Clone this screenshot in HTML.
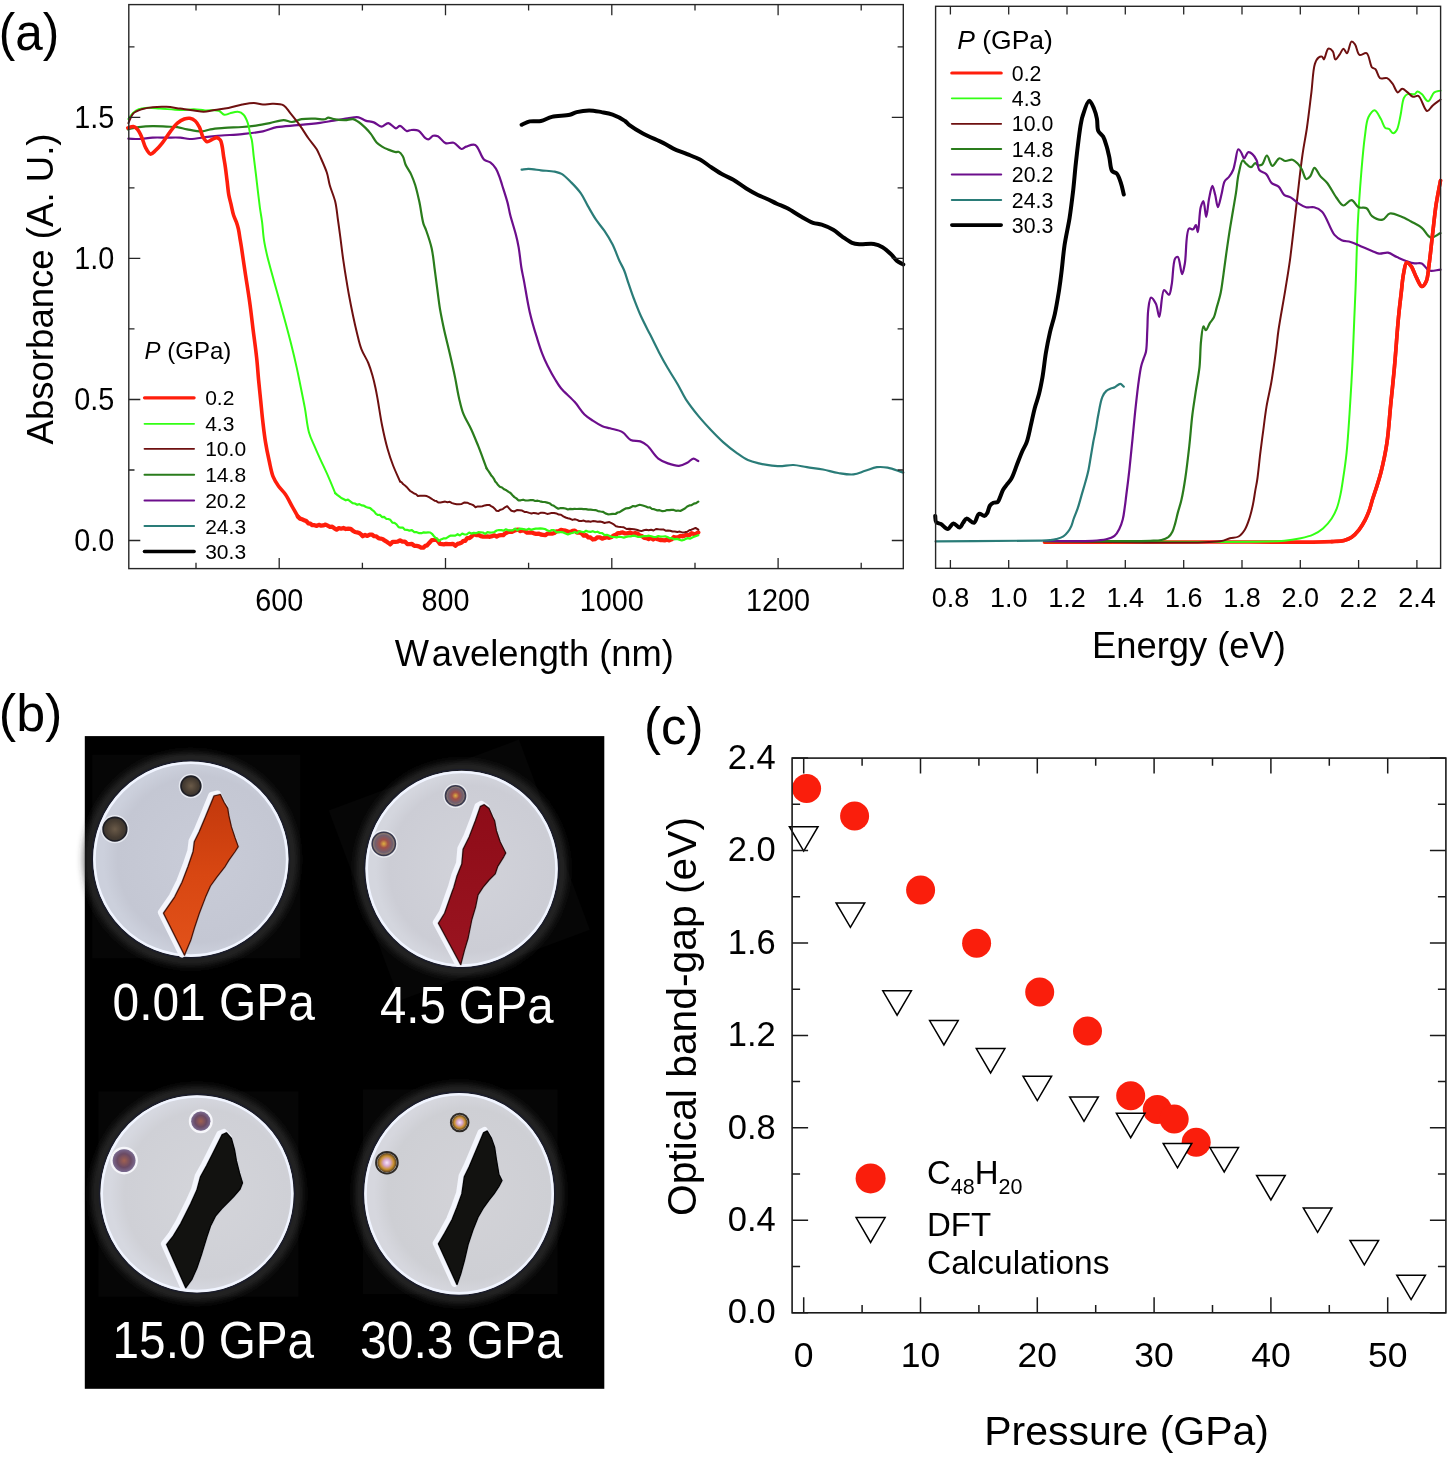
<!DOCTYPE html><html><head><meta charset="utf-8"><style>html,body{margin:0;padding:0;background:#fff;width:1450px;height:1460px;overflow:hidden}svg{display:block;filter:blur(0.35px)}text{font-family:"Liberation Sans",sans-serif}</style></head><body>
<svg width="1450" height="1460" viewBox="0 0 1450 1460">
<defs><filter id="bl1" x="-20%" y="-20%" width="140%" height="140%"><feGaussianBlur stdDeviation="1.2"/></filter><filter id="bl3" x="-30%" y="-30%" width="160%" height="160%"><feGaussianBlur stdDeviation="4"/></filter><filter id="bl05"><feGaussianBlur stdDeviation="0.6"/></filter><radialGradient id="disk0" cx="0.55" cy="0.5" r="0.5"><stop offset="0" stop-color="#c9ccd8"/><stop offset="0.85" stop-color="#c4c7d3"/><stop offset="1" stop-color="#ccd0dc"/></radialGradient><radialGradient id="disk1" cx="0.55" cy="0.5" r="0.5"><stop offset="0" stop-color="#d2d3da"/><stop offset="0.85" stop-color="#cccdd5"/><stop offset="1" stop-color="#d4d6de"/></radialGradient><radialGradient id="disk2" cx="0.55" cy="0.5" r="0.5"><stop offset="0" stop-color="#d4d5da"/><stop offset="0.85" stop-color="#cfd0d6"/><stop offset="1" stop-color="#d6d8e0"/></radialGradient><radialGradient id="disk3" cx="0.55" cy="0.5" r="0.5"><stop offset="0" stop-color="#d3d3d8"/><stop offset="0.85" stop-color="#cecfd4"/><stop offset="1" stop-color="#d6d7de"/></radialGradient><linearGradient id="cg1" x1="0" y1="0" x2="0" y2="1"><stop offset="0" stop-color="#c2380c"/><stop offset="0.5" stop-color="#d84712"/><stop offset="1" stop-color="#e2521a"/></linearGradient><linearGradient id="cg2" x1="0" y1="0" x2="0" y2="1"><stop offset="0" stop-color="#8e0c18"/><stop offset="1" stop-color="#9a1420"/></linearGradient><radialGradient id="gb1"><stop offset="0" stop-color="#6a5a48"/><stop offset="0.7" stop-color="#463c32"/><stop offset="1" stop-color="#3a342e"/></radialGradient><radialGradient id="gb2"><stop offset="0" stop-color="#e0b040"/><stop offset="0.35" stop-color="#a05048"/><stop offset="0.75" stop-color="#706070"/><stop offset="1" stop-color="#a08a70"/></radialGradient><radialGradient id="gb3"><stop offset="0" stop-color="#a06050"/><stop offset="0.6" stop-color="#6a4a64"/><stop offset="1" stop-color="#7a6a90"/></radialGradient><radialGradient id="gb4"><stop offset="0" stop-color="#f8e8f8"/><stop offset="0.35" stop-color="#d8a8d0"/><stop offset="0.7" stop-color="#c89030"/><stop offset="1" stop-color="#5a4020"/></radialGradient></defs>
<rect width="1450" height="1460" fill="#fff"/>
<path d="M128.4,138.6 C131.9,138.7 135.1,139.1 138.8,139 C143.1,138.9 148,137.8 152.6,137.6 C157.2,137.4 161.8,137.6 166.4,137.6 C171,137.6 176,137.3 180.2,137.6 C183.7,137.9 186.1,138.9 189.8,139 C194.9,139.1 202.2,137.5 207.8,136.9 C212.7,136.4 216.5,135.9 221.6,135.5 C227.8,135 235.3,134.8 242.2,134.1 C249.1,133.4 256.7,132.7 262.9,131.4 C268,130.3 271.6,128.2 276.7,127.2 C282.8,126 290.4,125.9 297.4,125.2 C304.8,124.5 313.4,123.7 320,122.8 C325.2,122.1 329.2,121.3 333.8,120.6 C338.4,119.8 343.3,118.9 347.6,118.3 C351.5,117.8 355.4,116.7 358.6,117.3 C361.2,117.8 363,119.8 365.5,120.6 C368.1,121.5 371.2,121.4 373.8,122.4 C376.5,123.4 378.9,126.6 381.4,126.6 C383.7,126.6 386,122.9 388.3,123.1 C390.8,123.3 393.7,128.2 395.9,128.3 C397.5,128.4 398.5,125.8 400,125.9 C402,126 404.8,130.7 406.9,131.1 C408.4,131.4 409.4,130.1 411,130 C413.1,129.8 416.4,129.6 418.6,130.7 C421,131.9 422.9,136.1 424.8,137.6 C426,138.6 427.1,139.5 428.3,139.4 C429.8,139.3 431.4,136.3 433.1,135.8 C434.6,135.4 436.2,135.5 437.9,136.2 C440.3,137.3 442.7,142.1 445.5,143.1 C448,144 451.2,141.9 453.8,142.8 C456.6,143.7 459.1,148.7 461.4,149 C463.1,149.2 464.3,147.2 466.2,146.6 C468.7,145.8 472.6,143.7 475.2,144.9 C478.8,146.5 480.9,156.9 484.1,159.7 C486.1,161.4 488.4,161 490.3,162.4 C492.4,163.9 494.3,166.2 495.9,168.6 C497.7,171.4 498.9,175.3 500,178.3 C500.9,180.7 501.2,182.2 502.1,185 C503.5,189.5 506.2,197.5 507.6,202.9 C508.8,207.4 509.1,210.7 510.3,215.3 C511.8,221.1 514.4,228.9 515.9,234.7 C517.1,239.3 517.8,242.4 518.6,247.1 C519.7,253.1 520.4,261.6 521.4,267.8 C522.2,272.9 523.1,276.1 524.1,281.6 C525.6,289.7 527.5,302.4 529.7,311.9 C531.7,320.6 534.3,329.3 536.6,336.7 C538.5,342.8 540.1,348.2 542.1,353.3 C543.8,357.8 545.5,361.5 547.6,365.7 C549.9,370.3 553,375.9 555.5,380 C557.4,383.2 558.6,385.3 561,388.3 C564.4,392.5 570.7,397.5 574.8,402.1 C578.5,406.2 581.2,411.2 584.5,414.5 C587.2,417.1 589.9,418.8 592.8,420.7 C595.8,422.7 599.3,424.9 602.4,426.2 C605,427.3 607.2,427.5 610,428.3 C613.6,429.4 618.9,430 622.4,432.1 C625.7,434 627.6,438.5 630.7,440 C633.6,441.4 637.5,440.4 640.3,441.4 C642.9,442.3 644.8,443.5 647.2,445.5 C650.7,448.5 654.4,455.5 658.3,458.6 C661.4,461 664.5,462.2 667.9,463.4 C671.4,464.6 675.6,466 679,465.8 C682,465.6 684.7,464.1 687.2,462.8 C689.5,461.6 691.4,458.7 693.4,458.6 C695.1,458.5 696.7,460.3 698.3,461.1" fill="none" stroke="#6c0e8c" stroke-width="2.2" stroke-linejoin="round" stroke-linecap="round"/>
<path d="M127.8,129.3 C131.5,128.6 134.9,127.7 138.8,127.2 C143.1,126.6 148,126.2 152.6,126.1 C157.2,126 162.1,126.4 166.4,126.6 C170.3,126.8 173.9,126.7 177.4,127.2 C180.8,127.7 183.5,128.7 187.1,129.3 C191.6,130.1 197.9,131.6 202.2,131.4 C205.4,131.2 207.4,129.9 210.5,129.3 C214.5,128.6 219.4,128.3 224.3,127.9 C229.9,127.5 236.6,127.4 242.2,127 C247.1,126.6 251.4,126.2 256,125.6 C260.6,124.9 265.2,124 269.8,123.1 C274.4,122.2 279.6,120.1 283.6,120.1 C286.7,120.1 289,122.1 291.9,122 C295,121.9 298.1,119.8 301.6,119.2 C305.7,118.5 311.1,118.7 315.3,118.7 C318.8,118.7 322.7,119.7 325,119.2 C326.4,118.9 327,117.7 328.3,117.6 C329.9,117.5 331.6,118.8 333.8,119.2 C336.8,119.8 341.4,120.1 344.8,120.1 C347.8,120.1 350.7,118.8 353.1,119.2 C355.2,119.6 356.7,120.8 358.6,122 C360.9,123.5 363.4,125.8 365.5,127.9 C367.5,129.9 369.2,131.8 371,134.1 C372.9,136.6 374.5,140.2 376.6,142.4 C378.3,144.2 380.2,145.4 382.1,146.6 C383.9,147.7 385.5,148.5 387.6,149.3 C390.1,150.3 393.9,151.9 395.9,152.1 C397,152.2 397.7,151.5 398.6,151.8 C400,152.3 401.7,154.3 402.8,156.2 C404.1,158.4 404.3,161.7 405.5,164.5 C406.9,167.7 409.4,170.7 411,174.1 C412.6,177.6 413.9,180.9 415.2,185 C416.7,189.9 418,195.7 419.3,201.6 C420.8,208.4 421.9,218.4 423.4,223.6 C424.3,226.6 425.2,227.6 426.2,230.5 C427.8,235 430.3,242.3 431.7,248.4 C433.1,254.7 433.6,261.2 434.5,267.8 C435.4,274.6 436.3,281.5 437.2,288.4 C438.1,295.3 438.9,302.2 440,309.1 C441.2,316 442.6,322.7 444.1,329.8 C445.8,337.4 447.9,345.4 449.7,353.3 C451.6,361.4 453.6,370.3 455.2,378.1 C456.6,385.1 457.6,391.8 459,397.9 C460.3,403.3 461.2,408 463.1,413.1 C465.2,418.6 468.8,424.1 471.4,429.7 C473.9,435.2 475.9,440.3 478.3,446.2 C481,453 483.8,460.9 486.6,468.3" fill="none" stroke="#2a7c1c" stroke-width="2.2" stroke-linejoin="round" stroke-linecap="round"/>
<path d="M486.6,468.3 L487.8,470.2 L489.0,471.8 L490.3,473.9 L491.5,475.8 L492.7,477.0 L493.9,478.8 L495.2,481.5 L496.4,482.7 L497.6,484.5 L499.8,486.7 L502.0,487.5 L504.2,489.3 L506.4,490.3 L508.6,491.9 L510.5,493.0 L512.5,495.2 L514.4,497.1 L516.4,498.4 L518.3,500.3 L520.7,500.3 L523.1,499.7 L525.5,500.5 L528.0,500.5 L530.4,500.2 L532.8,500.0 L535.2,501.0 L537.6,500.7 L540.0,501.3 L542.4,501.8 L544.8,502.0 L547.2,502.6 L549.4,503.2 L551.6,504.9 L553.9,505.8 L556.1,507.5 L558.3,508.7 L560.7,508.0 L563.1,508.2 L565.5,508.5 L567.9,509.5 L570.1,508.9 L572.4,509.1 L574.6,508.8 L576.9,509.0 L579.1,508.9 L581.4,508.8 L583.6,509.1 L585.9,509.1 L588.3,509.6 L590.7,509.6 L593.1,510.0 L595.5,510.1 L598.0,511.1 L600.5,511.5 L602.9,511.8 L605.4,513.4 L607.9,514.3 L610.4,514.2 L613.0,513.9 L615.5,514.0 L617.6,512.5 L619.6,512.1 L621.7,510.8 L623.8,509.5 L626.1,508.3 L628.4,508.2 L630.7,507.4 L633.0,506.0 L635.2,506.4 L637.5,505.5 L639.7,504.8 L642.8,505.5 L645.9,506.5 L648.0,507.5 L650.0,507.4 L652.0,509.0 L654.1,509.2 L656.9,510.3 L659.6,510.2 L662.4,511.2 L664.7,511.0 L667.0,510.1 L669.3,510.2 L671.5,509.8 L673.7,509.9 L675.9,510.8 L678.1,510.5 L680.3,511.0 L682.6,509.7 L684.9,508.5 L687.2,506.5 L689.4,505.4 L691.6,505.2 L693.9,503.6 L696.1,503.2 L698.3,501.7" fill="none" stroke="#2a7c1c" stroke-width="2.2" stroke-linejoin="round" stroke-linecap="round"/>
<path d="M521.6,169.7 C523.9,169.4 525.8,168.9 528.4,168.9 C531.9,168.9 536.6,169.8 540.9,170.3 C545.4,170.8 550.9,170.9 554.7,171.7 C557.4,172.3 559.3,172.6 561.6,173.9 C564.7,175.7 568.1,179.3 571.2,182.4 C574.5,185.7 578.1,189.5 580.9,193.4 C583.6,197.3 585.4,201.7 587.8,205.9 C590.4,210.4 593.1,215.4 596,219.7 C598.7,223.7 601.6,226.8 604.3,230.7 C607.2,235 610.1,239.6 612.6,244.5 C615.2,249.7 617.4,256.4 619.5,261 C621.1,264.5 622.6,266.6 624,270 C625.7,274 626.9,278.8 628.5,283.4 C630.2,288.3 631.8,293.3 633.8,298.5 C636,304.2 638.3,310.4 641,316.3 C643.7,322.3 646.9,328.2 649.9,334.1 C652.9,340 655.8,346.1 658.8,351.9 C661.7,357.4 664.6,362.7 667.7,368 C670.8,373.4 674.4,378.7 677.5,384 C680.5,389.1 682.6,394.2 685.9,399.3 C689.5,404.8 694.2,410.8 698.3,415.9 C702,420.4 705.4,424.1 709.3,428.3 C713.6,432.8 718.4,437.9 723.1,442.1 C727.6,446.1 732.5,450 736.9,453.1 C740.7,455.8 744.1,458.3 747.9,460 C751.5,461.6 755.4,462.5 759,463.4 C762.3,464.2 765.3,464.7 768.6,465.2 C772.2,465.7 775.8,466.2 779.7,466.2 C784,466.2 788.9,464.8 793.5,465 C798,465.2 802.2,466.5 806.9,467.2 C812,468 817.7,468.5 823,469.5 C828.2,470.5 833.2,472.2 838.3,473 C843.3,473.8 848.8,474.9 853.5,474.4 C857.7,474 861.3,472 865.2,470.8 C869.1,469.6 873,467.7 876.9,467.2 C880.5,466.7 883.7,467 887.6,467.7 C892.4,468.5 898.1,471 903.3,472.6" fill="none" stroke="#2a7c78" stroke-width="2.2" stroke-linejoin="round" stroke-linecap="round"/>
<path d="M127.8,127.9 C129.6,127.5 131.7,126.3 133.3,126.6 C134.8,126.9 136.2,128 137.4,129.3 C139,131.1 140.3,134.1 141.6,136.9 C143.1,140.2 144,144.9 145.7,147.9 C147.1,150.4 148.8,153.8 150.5,154.1 C152,154.3 153.6,152.2 155.3,150.7 C157.5,148.8 159.9,146 162.2,143.1 C164.9,139.7 167.8,134.9 170.5,131.4 C172.8,128.3 174.9,125.2 177.4,123.1 C179.6,121.3 182.1,119.8 184.3,119 C186.2,118.4 188,118 189.8,118.3 C191.7,118.6 193.7,119.6 195.3,121 C197,122.5 198.3,124.8 199.5,127.2 C200.9,130 201.4,134.3 202.9,136.9 C204.1,138.9 205.5,141.3 207.1,141.7 C208.5,142 210.3,140.4 211.9,139.7 C213.5,139 215.2,137.5 216.7,137.6 C218,137.7 219.4,138.8 220.3,140 C221.3,141.3 221.5,143.3 222,145.5 C222.7,148.6 223.1,153.4 223.7,157.1 C224.3,160.6 224.9,163.7 225.4,167.4 C226,171.6 226.5,176.5 227.1,181.1 C227.7,185.7 228,190.6 228.8,194.8 C229.5,198.5 230.4,201.7 231.2,205.1 C232,208.5 232.6,212.3 233.6,215.3 C234.4,217.9 235.6,219.9 236.4,222.2 C237.2,224.5 237.8,226.5 238.4,229 C239.1,232.1 239.6,236.1 240.1,239.3 C240.6,242.1 240.9,243.7 241.4,247.1 C242.4,253.5 244.1,265.5 245.5,274.7 C246.9,283.9 248.4,293 249.7,302.2 C251,311.4 252,320.6 253.1,329.8 C254.3,339 255.7,348.7 256.6,357.4 C257.5,365.3 257.9,372.6 258.6,380 C259.3,387.1 260,393.8 260.7,400.7 C261.4,407.6 262,414.5 262.8,421.4 C263.6,428.3 264.4,435.5 265.5,442.1 C266.5,448.3 267.7,454.2 269,460 C270.3,465.7 271.2,471.9 273.1,476.6 C274.6,480.4 276.5,483.2 278.6,486.2 C280.7,489.2 283.3,491.3 285.5,494.5 C288,498.1 290.2,503 292.4,506.9 C294.3,510.3 296.1,513.4 297.9,516.6" fill="none" stroke="#ff1e0c" stroke-width="3.6" stroke-linejoin="round" stroke-linecap="round"/>
<path d="M297.9,516.6 L300.0,518.6 L302.0,519.3 L304.1,520.2 L306.2,521.1 L308.3,523.3 L310.4,523.7 L312.4,525.2 L314.5,525.2 L316.7,525.9 L318.9,524.8 L321.1,525.7 L323.3,525.4 L325.5,524.6 L327.7,525.7 L329.9,526.8 L332.2,526.7 L334.4,528.3 L336.6,529.6 L338.9,528.1 L341.1,528.7 L343.4,528.0 L345.8,529.0 L348.2,528.6 L350.7,528.8 L353.1,530.9 L355.0,532.0 L357.0,532.4 L358.9,532.8 L360.9,534.2 L362.8,536.2 L365.1,535.0 L367.4,535.9 L369.7,534.7 L371.9,534.6 L374.1,536.2 L376.3,536.3 L378.5,538.1 L380.7,538.7 L382.6,539.0 L384.5,540.4 L386.5,541.6 L388.4,542.9 L390.3,544.4 L392.7,541.8 L395.1,541.8 L397.6,541.6 L400.0,540.3 L402.4,541.7 L404.9,541.6 L407.3,544.0 L409.7,544.2 L412.0,544.0 L414.3,545.8 L416.5,545.8 L418.8,546.3 L421.1,547.6 L423.4,547.6 L425.3,545.9 L427.1,545.4 L429.0,543.2 L431.8,540.1 L434.5,539.9 L436.3,539.6 L438.2,541.5 L440.0,543.9 L443.8,544.3 L446.1,543.8 L448.4,544.1 L450.7,544.2 L453.0,543.8 L455.3,545.7 L457.6,543.9 L459.5,543.4 L461.4,542.8 L463.4,540.9 L465.3,540.8 L467.2,538.1 L469.5,538.0 L471.8,536.2 L474.1,534.1 L476.3,535.1 L478.5,534.8 L480.8,536.1 L483.0,536.6 L485.2,536.6 L487.5,536.4 L489.8,536.8 L492.1,536.1 L494.4,535.3 L496.7,536.5 L499.0,535.4 L501.1,535.2 L503.3,535.1 L505.4,533.2 L507.6,532.2 L509.7,531.7 L511.9,531.9 L514.0,530.8 L516.2,529.9 L518.3,529.6 L520.5,531.1 L522.7,530.3 L524.9,531.1 L527.1,532.6 L529.3,532.6 L531.6,532.4 L533.9,533.3 L536.2,533.8 L538.5,533.6 L540.8,534.5 L543.1,534.8 L545.3,535.2 L547.6,533.6 L549.8,533.7 L552.0,533.7 L554.3,533.0 L556.5,531.3 L558.8,531.1 L561.0,529.9 L563.3,530.3 L565.6,530.7 L567.9,531.6 L570.2,532.1 L572.5,531.0 L574.8,530.7 L577.0,532.5 L579.3,532.5 L581.5,533.3 L583.8,535.7 L586.0,535.2 L588.3,537.3 L590.5,537.5 L592.8,539.5 L595.2,539.1 L597.5,537.3 L599.9,537.4 L602.2,538.7 L604.6,537.8 L606.9,537.2 L609.3,537.8 L611.5,537.0 L613.7,535.5 L615.9,534.7 L618.1,533.1 L620.3,532.8 L622.7,532.4 L625.1,533.4 L627.6,533.3 L630.0,532.4 L632.5,533.8 L635.1,533.2 L637.6,533.7 L639.8,535.6 L642.0,536.1 L644.2,537.8 L646.4,538.0 L648.6,539.0 L650.9,538.0 L653.2,539.5 L655.5,538.1 L657.8,539.3 L660.1,540.0 L662.4,540.1 L664.7,540.3 L667.0,539.7 L669.3,540.4 L671.6,539.4 L673.9,537.0 L676.2,537.5 L678.4,537.1 L680.6,535.9 L682.8,536.3 L685.0,535.4 L687.2,534.8 L689.4,535.1 L691.6,533.2 L693.9,534.1 L696.1,533.9 L698.3,532.4" fill="none" stroke="#ff1e0c" stroke-width="4.3" stroke-linejoin="round" stroke-linecap="round"/>
<path d="M128.4,119 C130,116.9 131.5,114.5 133.3,112.8 C135,111.3 136.8,110.1 138.8,109.3 C140.9,108.5 143,108.1 145.7,107.9 C149.6,107.6 154.8,108.2 160,108.5 C166.2,108.9 174.1,109.9 180.2,110 C185.2,110.1 189.7,109.2 194,109.3 C197.9,109.4 201.1,110.2 205,110.4 C209.3,110.7 215.4,109.5 218.8,110.7 C221.2,111.5 222.4,114.4 224.3,114.8 C226.1,115.1 227.8,113.9 229.8,113.4 C232.3,112.8 235.7,111.4 238.1,111.8 C240.2,112.1 242.1,113.2 243.6,114.8 C245.5,116.7 246.7,120 247.8,123.1 C249.1,126.7 249.7,132.4 250.5,135.5 C251,137.4 251.4,138 251.8,140 C252.6,143.8 253.1,151.4 253.8,157.1 C254.5,162.8 255.2,168.5 255.9,174.2 C256.6,179.9 257.2,185.7 257.9,191.4 C258.6,197.1 259.3,203.1 260,208.5 C260.7,213.3 261.5,217.3 262.1,222.2 C262.8,227.8 263.1,234.5 264,240.2 C264.8,245.4 265.9,250.3 267,255 C268,259.4 269,262.8 270.3,267.8 C272.2,274.7 274.9,284.3 277.2,292.6 C279.5,300.9 281.8,309 284.1,317.4 C286.4,326 288.9,335.1 291,343.6 C293,351.6 295.1,360.4 296.6,367.1 C297.7,372 298.3,374.9 299.3,380 C300.8,387.5 303.1,398.6 304.8,407.6 C306.4,416.1 307,425.4 309,432.4 C310.5,437.8 312.6,441.7 314.5,446.2 C316.3,450.5 318,454.1 320,458.6 C322.5,464.1 325.7,470.7 328.3,476.6 C330.8,482.2 332.9,487.6 335.2,493.1" fill="none" stroke="#33ff14" stroke-width="2.0" stroke-linejoin="round" stroke-linecap="round"/>
<path d="M335.2,493.1 L337.2,494.9 L339.3,496.4 L341.3,498.0 L343.4,499.0 L345.7,500.3 L348.0,499.6 L350.3,501.3 L352.6,503.1 L354.9,503.5 L357.2,504.8 L359.4,504.1 L361.6,505.4 L363.9,505.7 L366.1,507.0 L368.3,507.7 L370.2,508.1 L372.1,509.9 L374.1,511.3 L376.0,513.9 L377.9,515.0 L380.0,514.9 L382.0,517.1 L384.1,516.9 L386.2,518.8 L388.2,519.0 L390.3,519.8 L392.4,522.7 L394.5,522.9 L396.5,524.3 L398.6,527.1 L400.7,527.7 L402.8,527.6 L404.8,529.7 L406.9,529.8 L409.4,530.6 L411.9,530.2 L414.3,532.1 L416.8,532.2 L419.3,533.2 L421.5,533.2 L423.7,532.3 L425.9,532.6 L428.1,532.4 L430.3,532.5 L432.0,533.8 L433.6,535.8 L435.3,537.8 L436.9,538.3 L438.6,541.0 L441.0,539.4 L443.4,538.4 L445.9,538.4 L448.3,536.8 L450.7,535.6 L453.0,535.6 L455.3,535.6 L457.6,534.2 L459.9,535.5 L462.2,533.5 L464.5,534.5 L466.8,534.3 L469.1,532.5 L471.4,533.6 L473.7,532.9 L476.0,533.2 L478.3,532.2 L480.6,532.3 L482.9,532.5 L485.2,533.9 L487.5,532.1 L489.8,532.6 L492.1,532.5 L494.4,532.0 L496.7,530.5 L499.0,530.0 L501.3,530.2 L503.6,530.6 L505.9,529.3 L508.2,530.3 L510.5,530.3 L512.8,530.3 L515.1,528.7 L517.4,530.3 L519.7,528.6 L522.0,528.9 L524.3,529.3 L526.6,529.8 L528.9,528.7 L531.2,529.8 L533.5,529.1 L535.7,528.7 L538.0,528.7 L540.3,528.4 L542.6,528.6 L544.9,529.0 L547.2,530.3 L549.5,531.2 L551.8,530.1 L554.1,530.2 L556.4,532.3 L558.7,532.0 L561.0,532.2 L563.3,532.4 L565.6,533.5 L567.9,534.4 L570.2,533.4 L572.5,533.0 L574.8,532.0 L577.1,533.1 L579.4,531.2 L581.7,531.7 L583.9,532.2 L586.1,530.8 L588.4,531.7 L590.6,531.9 L592.8,531.2 L595.2,532.2 L597.5,531.7 L599.9,533.0 L602.2,533.2 L604.6,535.1 L606.9,534.8 L609.3,535.8 L611.7,537.0 L614.1,537.0 L616.5,537.4 L619.0,536.7 L621.4,537.0 L623.8,537.6 L626.1,536.9 L628.4,536.4 L630.7,536.4 L633.0,535.7 L635.3,535.9 L637.6,536.8 L639.9,536.8 L642.2,536.4 L644.5,536.2 L646.8,536.1 L649.1,535.7 L651.4,536.2 L653.7,537.0 L656.0,537.0 L658.3,536.0 L660.6,536.6 L662.9,536.5 L665.2,536.3 L667.5,537.1 L669.8,538.2 L672.1,538.4 L674.5,539.3 L676.9,538.9 L679.3,539.6 L681.7,540.5 L684.5,539.6 L687.2,538.2 L690.0,538.7 L692.8,537.3 L695.5,536.2 L698.3,535.2" fill="none" stroke="#33ff14" stroke-width="2.2" stroke-linejoin="round" stroke-linecap="round"/>
<path d="M128.4,123.1 C130,119.9 131,115.7 133.3,113.4 C135.5,111.3 138.6,110.3 141.6,109.3 C144.9,108.2 148.7,107.6 152.6,107.2 C156.9,106.7 161.8,106.6 166.4,106.8 C171,107 175.6,108 180.2,108.6 C184.8,109.2 189.8,109.8 194,110.4 C197.5,110.9 200.3,111.8 203.6,111.8 C207.2,111.8 210.8,110.6 214.7,110 C219,109.3 223.8,108.8 228.4,107.9 C233,107 237.8,105.3 242.2,104.5 C246.3,103.8 250.3,103 254,103.1 C257.2,103.2 259.9,104.4 262.9,104.5 C266.1,104.6 269.3,103.7 272.6,103.8 C276.2,103.9 280.6,103.8 283.6,105.4 C286.5,107 288,110.4 290.5,113.4 C293.5,117.1 297.2,121.7 300.2,125.9 C303.1,130 305.6,134.3 308.4,138.3 C311.1,142.1 314.7,146 316.7,149.3 C318.2,151.8 318.7,153.4 320,156.2 C321.9,160.5 325.2,167.6 326.9,172.8 C328.3,177.1 328.5,180.7 329.7,185 C331.1,190.1 333.8,195.9 335.2,201.6 C336.6,207.4 337,213.3 337.9,219.5 C338.9,226.1 339.8,233.3 340.7,240.2 C341.6,247.1 342.4,254.3 343.4,260.9 C344.3,267.1 345.2,273 346.2,278.8 C347.1,284.4 347.9,289.5 349,295.3 C350.2,301.8 351.7,309.4 353.1,316 C354.4,322.2 355.8,328.3 357.2,334 C358.5,339.3 359.5,344.3 361.4,349.1 C363.2,353.9 366.4,358.4 368.3,363 C370,367.2 371.2,371.1 372.4,375.3 C373.6,379.5 374.6,383.8 375.5,388 C376.4,392.2 377,395.8 377.9,400.7 C379.1,407.6 380.5,417.4 382.1,425.5 C383.7,433.5 385.6,441.9 387.6,449 C389.3,455 391,460.1 393.1,465.5 C395.2,470.9 397.7,476.1 400,481.4" fill="none" stroke="#6e1010" stroke-width="2.0" stroke-linejoin="round" stroke-linecap="round"/>
<path d="M400.0,481.4 L401.7,482.4 L403.3,484.3 L405.0,485.5 L406.6,486.9 L408.3,488.9 L410.2,491.0 L412.1,492.2 L414.1,493.5 L416.0,494.1 L417.9,496.0 L420.1,495.7 L422.3,495.7 L424.6,495.8 L426.8,496.1 L429.0,497.2 L430.9,498.3 L432.7,499.5 L434.6,500.7 L436.4,501.1 L438.3,502.5 L440.6,502.4 L442.9,502.0 L445.2,501.6 L447.5,502.2 L449.8,501.8 L452.1,503.1 L454.4,503.8 L456.7,504.2 L459.0,504.3 L461.7,503.9 L464.5,502.4 L467.2,502.7 L469.3,503.7 L471.4,504.4 L473.4,505.2 L475.5,507.2 L477.8,506.4 L480.1,506.5 L482.4,506.2 L484.7,505.4 L487.0,505.0 L489.3,504.9 L491.1,506.1 L492.9,507.1 L494.7,508.7 L496.5,510.8 L498.3,511.1 L500.5,509.7 L502.8,509.1 L505.0,507.3 L507.2,506.2 L509.3,508.6 L511.4,510.8 L514.2,511.5 L516.9,510.1 L519.7,510.2 L522.1,510.6 L524.5,511.9 L526.9,512.1 L529.3,512.9 L531.5,513.5 L533.8,512.9 L536.0,513.3 L538.2,513.9 L540.5,512.8 L542.7,512.8 L545.0,513.1 L547.2,513.9 L549.5,513.5 L551.8,512.9 L554.1,512.9 L556.4,513.4 L558.7,514.6 L561.0,514.8 L563.3,516.4 L565.6,517.5 L567.9,518.3 L570.2,518.8 L572.5,519.9 L574.8,519.3 L577.0,519.9 L579.3,521.0 L581.5,520.9 L583.8,520.6 L586.0,521.5 L588.3,521.2 L590.5,521.7 L592.8,521.1 L595.2,521.2 L597.5,521.7 L599.9,521.5 L602.2,522.0 L604.6,523.0 L606.9,522.4 L609.3,522.1 L611.5,523.2 L613.8,524.4 L616.0,526.3 L618.3,526.7 L621.1,527.1 L623.8,527.3 L626.6,529.0 L629.1,528.7 L631.6,529.0 L634.0,529.3 L636.5,529.8 L639.0,530.5 L641.4,531.1 L643.8,530.2 L646.2,529.8 L648.6,530.3 L651.1,529.7 L653.6,530.5 L656.0,529.0 L658.5,529.3 L661.0,529.4 L663.3,529.4 L665.6,530.7 L667.9,530.5 L670.2,530.7 L672.5,531.5 L674.8,531.5 L677.3,531.9 L679.8,531.6 L682.2,532.4 L684.7,532.2 L687.2,531.7 L689.3,530.2 L691.4,529.7 L693.4,528.8 L695.5,527.9 L698.3,529.7" fill="none" stroke="#6e1010" stroke-width="2.0" stroke-linejoin="round" stroke-linecap="round"/>
<path d="M521.6,124.8 C524.3,123.7 526.8,122.1 529.8,121.4 C533.2,120.7 537.3,121.7 540.9,121 C544.6,120.3 547.7,117.9 551.9,116.9 C557.1,115.7 565.3,115.9 569.8,114.8 C572.7,114.1 574,112.8 576.7,112.1 C580.2,111.2 585,110.4 589.1,110.4 C593.3,110.4 597.6,111.4 601.6,112.1 C605.4,112.8 608.9,113.3 612.6,114.6 C616.7,116.1 622.1,118.9 625,121 C626.9,122.3 627.2,123.4 629.1,124.8 C632.3,127.2 637.7,130.6 642.9,133.4 C649,136.7 658,140.2 663.6,143.1 C667.5,145.1 669.7,146.9 673.3,148.6 C677.4,150.6 682.6,152.2 687.1,154.1 C691.5,155.9 695.9,157.4 700,159.6 C704.1,161.8 707.7,165 711.6,167.5 C715.4,170 719.4,172.7 723.2,174.8 C726.6,176.7 729.8,177.8 733.3,179.8 C737.4,182.2 742,185.9 746.3,188.5 C750.2,190.9 754.3,193.2 757.9,195 C761,196.5 763.6,197.3 766.6,198.7 C769.9,200.2 773.4,202.1 776.8,203.7 C780.2,205.3 783.3,206.2 786.9,208.1 C791.4,210.4 796.8,214.2 801.4,216.8 C805.4,219.1 809.3,221.5 813,222.8 C816,223.9 818.7,223.7 821.7,224.7 C825.3,225.9 829.7,227.8 833.2,229.8 C836.4,231.7 838.8,234.2 841.9,236.3 C845.1,238.5 848.9,241.5 852.1,242.8 C854.6,243.8 856.5,244 859.3,244.3 C863.3,244.7 869.6,243.3 873.8,244 C877.1,244.6 879.7,245.6 882.5,247.2 C885.6,249 888.7,252 891.2,254.4 C893.4,256.5 894.9,259.2 897,260.9 C898.9,262.5 901.2,263.3 903.3,264.5" fill="none" stroke="#000" stroke-width="4.0" stroke-linejoin="round" stroke-linecap="round"/>
<rect x="128.8" y="4.6" width="774.5" height="564.0" fill="none" stroke="#262626" stroke-width="1.4"/>
<path d="M128.8,540.5L140.3,540.5 M891.8,540.5L903.3,540.5 M128.8,399.5L140.3,399.5 M891.8,399.5L903.3,399.5 M128.8,258.4L140.3,258.4 M891.8,258.4L903.3,258.4 M128.8,117.4L140.3,117.4 M891.8,117.4L903.3,117.4 M128.8,470L134.5,470 M897.6,470L903.3,470 M128.8,328.9L134.5,328.9 M897.6,328.9L903.3,328.9 M128.8,187.9L134.5,187.9 M897.6,187.9L903.3,187.9 M128.8,46.9L134.5,46.9 M897.6,46.9L903.3,46.9 M279.2,568.6L279.2,558 M279.2,4.6L279.2,15.2 M445.5,568.6L445.5,558 M445.5,4.6L445.5,15.2 M611.8,568.6L611.8,558 M611.8,4.6L611.8,15.2 M778.1,568.6L778.1,558 M778.1,4.6L778.1,15.2 M196,568.6L196,562.8 M196,4.6L196,10.4 M362.4,568.6L362.4,562.8 M362.4,4.6L362.4,10.4 M528.6,568.6L528.6,562.8 M528.6,4.6L528.6,10.4 M695,568.6L695,562.8 M695,4.6L695,10.4 M861.2,568.6L861.2,562.8 M861.2,4.6L861.2,10.4" stroke="#262626" stroke-width="1.3" fill="none"/>
<text transform="translate(114.3,551.4) scale(0.9,1)" font-size="32" text-anchor="end" fill="#000" >0.0</text>
<text transform="translate(114.3,410.4) scale(0.9,1)" font-size="32" text-anchor="end" fill="#000" >0.5</text>
<text transform="translate(114.3,269.3) scale(0.9,1)" font-size="32" text-anchor="end" fill="#000" >1.0</text>
<text transform="translate(114.3,128.3) scale(0.9,1)" font-size="32" text-anchor="end" fill="#000" >1.5</text>
<text transform="translate(279.2,610.9) scale(0.9,1)" font-size="32" text-anchor="middle" fill="#000" >600</text>
<text transform="translate(445.5,610.9) scale(0.9,1)" font-size="32" text-anchor="middle" fill="#000" >800</text>
<text transform="translate(611.8,610.9) scale(0.9,1)" font-size="32" text-anchor="middle" fill="#000" >1000</text>
<text transform="translate(778.1,610.9) scale(0.9,1)" font-size="32" text-anchor="middle" fill="#000" >1200</text>
<text x="534.3" y="666.4" font-size="36.3" text-anchor="middle" fill="#000" >W<tspan dx="4">avelength (nm)</tspan></text>
<text transform="translate(53,289) rotate(-90)" font-size="36.6" text-anchor="middle">Absorbance (A. U.)</text>
<text x="144.6" y="359.2" font-size="24" text-anchor="start" fill="#000" ><tspan font-style="italic">P</tspan> (GPa)</text>
<line x1="144.5" y1="397.8" x2="194.1" y2="397.8" stroke="#ff1e0c" stroke-width="3.2" stroke-linecap="round"/>
<text x="205.2" y="405.4" font-size="21" text-anchor="start" fill="#000" >0.2</text>
<line x1="144.5" y1="423.8" x2="194.1" y2="423.8" stroke="#33ff14" stroke-width="1.8" stroke-linecap="round"/>
<text x="205.2" y="431.4" font-size="21" text-anchor="start" fill="#000" >4.3</text>
<line x1="144.5" y1="448.8" x2="194.1" y2="448.8" stroke="#6e1010" stroke-width="1.8" stroke-linecap="round"/>
<text x="205.2" y="456.4" font-size="21" text-anchor="start" fill="#000" >10.0</text>
<line x1="144.5" y1="474.7" x2="194.1" y2="474.7" stroke="#2a7c1c" stroke-width="2.0" stroke-linecap="round"/>
<text x="205.2" y="482.3" font-size="21" text-anchor="start" fill="#000" >14.8</text>
<line x1="144.5" y1="500.4" x2="194.1" y2="500.4" stroke="#6c0e8c" stroke-width="2.0" stroke-linecap="round"/>
<text x="205.2" y="508" font-size="21" text-anchor="start" fill="#000" >20.2</text>
<line x1="144.5" y1="526.1" x2="194.1" y2="526.1" stroke="#2a7c78" stroke-width="2.0" stroke-linecap="round"/>
<text x="205.2" y="533.7" font-size="21" text-anchor="start" fill="#000" >24.3</text>
<line x1="144.5" y1="551.5" x2="194.1" y2="551.5" stroke="#000" stroke-width="3.6" stroke-linecap="round"/>
<text x="205.2" y="559.1" font-size="21" text-anchor="start" fill="#000" >30.3</text>
<path d="M1044.5,542.2 C1096.3,542.1 1150.3,542.1 1200,542 C1245.7,541.9 1311.1,542.6 1331.7,541.6 C1338,541.3 1340.5,541.3 1344.1,540.4 C1347,539.7 1349.3,538.9 1351.6,537.3 C1354.3,535.5 1356.8,532.7 1359,529.9 C1361.3,526.9 1363.5,523.2 1365.2,519.9 C1366.7,517 1367.8,514.4 1369,511.2 C1370.4,507.5 1371.4,502.8 1372.7,498.8 C1373.9,495 1375.1,491.7 1376.4,487.6 C1377.9,482.8 1379.6,477.9 1381.1,471.8 C1383.1,463.7 1385.4,453.4 1386.9,443.1 C1388.7,431.3 1389.4,417.5 1390.7,404.7 C1392,391.9 1393.3,379.8 1394.5,366.3 C1395.9,351.2 1397.1,331.8 1398.4,318.4 C1399.3,308.6 1400.3,300.9 1401.2,293 C1402,286.2 1402.4,279.5 1403.5,274 C1404.4,269.7 1405,263 1406.7,262.5 C1407.9,262.1 1409.7,264.4 1411.1,266.1 C1413.1,268.7 1414.6,274.1 1416.5,277.6 C1418.2,280.8 1420,286.3 1421.8,286.5 C1423.3,286.6 1425.2,283.6 1426.3,281.2 C1428,277.5 1428.1,271.4 1429,265.2 C1430.2,256.7 1431.3,245 1432.5,234.9 C1433.7,224.8 1434.7,214.1 1436.1,204.6 C1437.4,196.1 1439,188.5 1440.5,180.5" fill="none" stroke="#ff1e0c" stroke-width="3.6" stroke-linejoin="round" stroke-linecap="round"/>
<path d="M1044.5,541.2 C1124.5,541.1 1251.5,543.4 1284.5,540.8 C1293.1,540.1 1295.7,539.4 1300.7,538.3 C1305.1,537.3 1309.3,536.3 1313.1,534.6 C1316.7,533 1320,531 1323,528.4 C1326.2,525.7 1329.4,522 1331.7,518.5 C1333.8,515.3 1335.3,512.2 1336.7,508.6 C1338.3,504.5 1339.4,499.6 1340.4,494.9 C1341.5,490.1 1342,485.7 1342.9,480 C1344.1,472.3 1345.6,462.5 1346.6,452.6 C1347.8,440.9 1348.6,427.8 1349.5,414.3 C1350.5,399.2 1351.5,382.3 1352.3,366.3 C1353.1,350.3 1353.7,332.3 1354.3,318.4 C1354.7,307.7 1355.1,301.4 1355.5,290 C1356.2,272.9 1356.7,246.4 1357.7,226 C1358.6,207.4 1360,188.5 1361.3,172.5 C1362.4,159.4 1363.4,147 1364.8,136.9 C1365.9,129.4 1366.1,122 1368.4,117.3 C1370,114.1 1372.6,110.1 1374.6,110.2 C1376.8,110.3 1379.1,116.1 1380.9,119.1 C1382.6,122 1383.5,126.6 1385.3,128 C1386.4,128.9 1387.7,128.2 1388.9,128.9 C1390.4,129.8 1391.9,133.3 1393.3,133.3 C1394.6,133.3 1395.9,131.6 1396.9,129.8 C1398.6,126.8 1399.4,120.5 1400.5,115.5 C1401.8,109.9 1402.1,101.2 1404,97.7 C1405,95.8 1406,94.7 1407.6,94.1 C1409.5,93.3 1413,94.8 1414.7,94.1 C1415.9,93.6 1416.3,91.6 1417.4,91.5 C1418.6,91.4 1420.3,92.9 1421.8,94.1 C1423.8,95.8 1426.1,101.4 1428.1,101.3 C1430.3,101.2 1431.9,94.1 1434.3,92.4 C1436.2,91.1 1438.4,91.2 1440.5,90.6" fill="none" stroke="#33ff14" stroke-width="2.0" stroke-linejoin="round" stroke-linecap="round"/>
<path d="M1044.5,541.3 C1103,541.3 1197.6,544.6 1220,541.3 C1225.4,540.5 1226.7,539.1 1229.9,538.3 C1232.9,537.5 1236.1,537.9 1238.6,536.5 C1241.1,535.1 1243,532.5 1244.8,529.7 C1246.9,526.3 1248.4,521.4 1249.8,517.2 C1251.1,513.1 1252,509.1 1252.9,504.8 C1253.9,500.1 1254.6,494.4 1255.4,489.9 C1256,486.3 1256.6,484.1 1257.2,480 C1258.2,473.4 1259.2,462.4 1260.2,453.9 C1261.2,445.8 1262.2,438.1 1263.3,430.2 C1264.3,422.3 1265.2,414.4 1266.5,406.6 C1267.8,398.7 1269.7,391.5 1271.2,383 C1272.9,373.3 1274.6,361 1275.9,351.5 C1277,343.7 1277.3,338.3 1278.5,330 C1280.2,318.4 1283.5,301.2 1285.5,288.6 C1287.2,278.1 1288.4,271.2 1290,259.8 C1292.2,243.4 1294.9,217.9 1297.1,199.3 C1299,183.3 1300.6,167.7 1302.5,154.7 C1303.9,144.6 1305.5,137.6 1306.9,128 C1308.5,117 1310,103.6 1311.4,92.4 C1312.6,82.4 1312.9,69.9 1314.9,63.9 C1315.9,60.9 1317,58.7 1318.5,57.6 C1319.6,56.8 1321.2,56.3 1322.1,56.7 C1323,57 1323.2,59.5 1323.9,59.4 C1325.1,59.3 1326.4,49.3 1328.3,48.7 C1329.6,48.3 1331.7,50 1332.8,51.4 C1334.2,53.2 1334.1,59.1 1335.4,59.4 C1336.6,59.6 1338.5,55.9 1339.9,54.1 C1341.2,52.3 1342.2,48.8 1343.4,48.7 C1344.6,48.6 1345.9,53.4 1347,53.2 C1348.7,52.9 1349.7,42.1 1351.5,41.6 C1352.6,41.3 1353.9,42.9 1355,44.3 C1356.7,46.5 1357.2,53.7 1359.5,54.9 C1361.3,55.8 1364.7,52.2 1366.6,53.2 C1369.4,54.7 1369.9,65 1372,67.4 C1373.1,68.6 1374.4,68.1 1375.5,69.2 C1377.2,70.9 1377.8,76.7 1380,78.1 C1381.9,79.2 1385.1,77.3 1387.1,78.1 C1389.2,79 1390.7,81.3 1392.4,83.4 C1394.4,85.9 1395.9,92.1 1397.8,92.4 C1399.2,92.6 1400.6,88.9 1402.2,88.8 C1403.9,88.7 1405.8,91.1 1407.6,92.4 C1409.4,93.7 1411,96.3 1412.9,96.8 C1414.6,97.3 1416.6,95.1 1418.3,95.9 C1421.4,97.4 1424.4,110.8 1427.2,111.1 C1429,111.3 1430.5,107.5 1432.5,105.7 C1434.8,103.6 1437.8,101.6 1440.5,99.5" fill="none" stroke="#6e1010" stroke-width="2.0" stroke-linejoin="round" stroke-linecap="round"/>
<path d="M1044.5,541 C1079.8,540.9 1133,541.4 1150.3,540.8 C1155.9,540.6 1158.2,540.7 1161.4,540 C1164,539.4 1166.4,538.6 1168.3,537.2 C1170.1,535.8 1171.3,533.8 1172.4,531.7 C1173.7,529.3 1174.3,526.4 1175.2,523.4 C1176.2,520 1176.9,516.2 1177.9,512.4 C1179,508.4 1180.3,504.8 1181.4,500 C1182.9,493.6 1184.2,485.6 1185.4,477.5 C1186.8,467.9 1188.1,456.5 1189.3,446 C1190.5,435.5 1191.2,424.1 1192.4,414.5 C1193.4,406.5 1194.5,400 1195.6,392.4 C1196.8,384.3 1198.6,375.7 1199.5,367.2 C1200.4,358.5 1200.2,348 1201.1,340.5 C1201.7,335 1202.3,326.5 1203.5,326.3 C1204.2,326.2 1204.9,330.2 1205.8,330.2 C1207,330.2 1208.4,325.3 1209.8,323.1 C1211.1,321.1 1212.7,319.8 1213.8,317.6 C1215.1,314.9 1215.6,311.5 1216.6,307.9 C1217.9,303.4 1219.6,298.1 1220.7,292.8 C1221.9,287.1 1222.5,281 1223.4,274.8 C1224.3,268.1 1225.2,261.5 1226.2,254.1 C1227.4,245.6 1229,234.6 1230.3,226.6 C1231.3,220.4 1232.2,215.5 1233.1,210 C1234,204.5 1235,199.1 1235.9,193.4 C1236.9,187.2 1237.3,179.9 1238.6,174.1 C1239.7,169.1 1241.2,160.7 1242.8,160.3 C1243.6,160.1 1244.4,162.1 1245.5,163.1 C1247,164.4 1249.3,167.3 1251,167.2 C1252.5,167.1 1253.9,163.2 1255.2,163.1 C1256.2,163 1256.8,164.9 1257.9,165.2 C1259.1,165.5 1260.8,165.4 1262.1,164.5 C1264,163.1 1265.2,155.5 1266.9,155.5 C1268.7,155.5 1270.2,165.6 1272.4,165.9 C1274.4,166.2 1276.9,158.8 1279.3,158.3 C1281.3,157.9 1283.3,160.8 1285.5,161 C1287.7,161.2 1290.3,159.2 1292.4,159.7 C1294.5,160.2 1296.3,162.1 1297.9,163.8 C1299.6,165.5 1300.8,167.7 1302.1,170 C1303.6,172.7 1304.5,178.5 1306.2,179 C1307.4,179.3 1309.1,177.6 1310.3,176.2 C1312,174.3 1312.9,168 1314.5,167.9 C1316.2,167.8 1318.1,173.5 1320.3,176.1 C1322.4,178.6 1325.1,180.3 1327.4,183.2 C1330.4,187 1333.3,193.5 1336.3,197.5 C1338.7,200.7 1340.8,205.2 1343.4,205.5 C1345.9,205.8 1349,199.8 1351.5,200.1 C1354.1,200.4 1355.9,206 1358.6,207.3 C1361,208.5 1364.4,206.9 1366.6,208.2 C1369,209.6 1369.5,214.3 1372,216.2 C1374.7,218.2 1379.6,220.3 1382.6,219.7 C1385.4,219.1 1387,214.2 1389.8,213.5 C1392.9,212.8 1397,214.9 1400.5,216.2 C1404.1,217.5 1407.6,219.6 1411.1,221.5 C1414.7,223.5 1418.6,225.2 1421.8,227.8 C1425.1,230.5 1427.4,236.9 1430.7,237.6 C1433.7,238.2 1437.2,234.6 1440.5,233.1" fill="none" stroke="#2a7c1c" stroke-width="2.2" stroke-linejoin="round" stroke-linecap="round"/>
<path d="M1044.5,541 C1060.5,540.9 1081.3,541.4 1092.4,540.8 C1098.4,540.5 1102.2,540.3 1106.2,539.3 C1109.4,538.5 1112.3,537.7 1114.5,535.9 C1116.6,534.2 1118,531.6 1119.3,529 C1120.8,526.1 1121.9,522.8 1122.8,519.3 C1123.8,515.5 1124.2,511 1124.8,506.9 C1125.4,502.9 1125.7,499.7 1126.3,495 C1127.2,488.1 1128.4,478.5 1129.4,469.6 C1130.5,459.7 1131.5,448.6 1132.6,438.1 C1133.6,427.6 1134.6,416.7 1135.7,406.6 C1136.7,397.3 1137.8,387.3 1138.9,379.8 C1139.7,374.3 1140.3,369.6 1141.3,365.7 C1142,362.9 1142.8,361 1143.6,358.6 C1144.4,356.2 1145.4,354.6 1146,351.5 C1147,346.3 1146.9,337.1 1147.3,330 C1147.7,323 1147.5,315.2 1148.3,309.3 C1148.9,304.8 1149.5,297.9 1151,297.6 C1152.2,297.3 1154.6,301.2 1155.9,303.8 C1157.6,307.2 1158.2,316.9 1159.3,316.9 C1160.9,316.8 1161.4,290.9 1164.1,290 C1165.5,289.6 1167.8,295.1 1169,294.8 C1170.5,294.4 1170.9,288.8 1171.7,284.5 C1173,277.8 1172.9,261.5 1175.2,258.3 C1176,257.2 1177.1,256.5 1177.9,256.9 C1179.8,257.8 1180.8,274.1 1182.1,274.1 C1183.1,274.1 1183.9,268.3 1184.8,263.8 C1186.4,255.6 1185.7,231.1 1189,228.6 C1190.1,227.7 1192,229.8 1193.1,229.3 C1194.3,228.8 1195.1,225.1 1195.9,225.2 C1196.8,225.3 1197.3,232.2 1197.9,232.1 C1199,232 1199.2,212.7 1200.7,207.2 C1201.5,204.4 1202.6,200.9 1203.4,201 C1204.6,201.1 1205.3,216.9 1206.2,216.9 C1207.2,216.9 1207.9,204.5 1209,199 C1210,194.3 1211.3,185.9 1212.4,185.9 C1213.3,185.9 1214.3,191.6 1215.2,194.8 C1216.2,198.6 1216.9,207.2 1217.9,207.2 C1218.9,207.2 1220.3,199.1 1221.4,194.8 C1222.6,190.3 1223,184.1 1224.8,181 C1225.9,179 1227.7,178.5 1229,176.9 C1230.5,175 1232.1,172.5 1233.1,170 C1234.2,167.4 1234.4,164.7 1235.2,161.7 C1236.1,158 1236.8,149.7 1238.3,149.3 C1239.2,149.1 1240.5,151.4 1241.4,152.8 C1242.5,154.4 1243,158.2 1244.1,158.3 C1245.3,158.4 1246.7,152.5 1248.3,152.1 C1249.5,151.8 1251.2,153 1252.4,154.1 C1254,155.5 1255.5,157.9 1256.6,160.3 C1257.9,163.1 1257.5,167.7 1259.3,170 C1260.9,172.1 1264.2,172.2 1266.2,174.1 C1268.5,176.3 1269.4,181 1271.7,183.1 C1273.7,184.9 1276.6,184.8 1278.6,186.6 C1280.8,188.6 1281.8,193 1284.1,194.8 C1286.1,196.4 1288.7,196.3 1291,197.6 C1293.6,199.1 1296.3,202 1298.9,203.7 C1301.3,205.2 1303.5,206.7 1306,207.3 C1308.5,207.9 1311.5,206.6 1314.1,207.3 C1316.9,208 1319.5,209.1 1322.1,211.7 C1326.5,216.1 1330.4,230.1 1334.5,234.9 C1336.9,237.7 1339,239 1341.7,240.2 C1344.4,241.4 1347.5,241.1 1350.6,242 C1354.1,243.1 1357.7,245 1361.3,246.5 C1364.9,248 1368.8,249.6 1372,250.9 C1374.6,251.9 1376.6,253.3 1379.1,253.6 C1381.9,254 1385.1,252.2 1388,252.7 C1391,253.3 1393.8,255.7 1396.9,257.1 C1400.3,258.6 1404.4,260.5 1407.6,261.6 C1410.2,262.5 1412.3,263.1 1414.7,263.4 C1417,263.7 1419.6,262.5 1421.8,263.4 C1424.4,264.5 1426,269.4 1429,270.5 C1432.2,271.7 1436.7,269.9 1440.5,269.6" fill="none" stroke="#6c0e8c" stroke-width="2.2" stroke-linejoin="round" stroke-linecap="round"/>
<path d="M935.6,541.4 C970.4,541.1 1023.6,541 1040,540.6 C1045.1,540.5 1047.1,540.5 1050,540.2 C1052.4,539.9 1054.2,539.7 1056.3,539.1 C1058.6,538.4 1061.4,537.6 1063.4,536.3 C1065.3,535.1 1066.8,533.3 1068.1,531.6 C1069.4,529.9 1070.4,528.1 1071.3,526.1 C1072.3,523.9 1072.7,521.6 1073.6,519 C1074.7,515.9 1076.3,512.4 1077.6,508.7 C1079,504.6 1080.2,499.8 1081.5,495.4 C1082.8,490.9 1084.2,486.4 1085.4,482 C1086.6,477.7 1087.7,473.7 1088.6,469.4 C1089.5,465 1090.1,460.5 1090.9,456 C1091.7,451.3 1092.5,446.3 1093.3,441.8 C1094.1,437.7 1094.9,434.2 1095.7,430 C1096.6,425.3 1097.2,420.1 1098.3,414.8 C1099.4,409.1 1100.5,401.2 1102.4,396.9 C1103.6,394.2 1105,392.1 1106.6,390.7 C1107.8,389.6 1109.3,389.2 1110.7,388.6 C1112,388 1113.4,387.9 1114.8,387.2 C1116.5,386.4 1118.7,383.7 1120.3,383.8 C1121.6,383.9 1122.6,385.7 1123.8,386.6" fill="none" stroke="#2a7c78" stroke-width="2.2" stroke-linejoin="round" stroke-linecap="round"/>
<path d="M1331.7,541.6 C1335.8,541.2 1340.5,541.3 1344.1,540.4 C1347,539.7 1349.3,538.9 1351.6,537.3 C1354.3,535.5 1356.8,532.7 1359,529.9 C1361.3,526.9 1363.5,523.2 1365.2,519.9 C1366.7,517 1367.8,514.4 1369,511.2 C1370.4,507.5 1371.4,502.8 1372.7,498.8 C1373.9,495 1375.1,491.7 1376.4,487.6 C1377.9,482.8 1379.6,477.9 1381.1,471.8 C1383.1,463.7 1385.4,453.4 1386.9,443.1 C1388.7,431.3 1389.4,417.5 1390.7,404.7 C1392,391.9 1393.3,379.8 1394.5,366.3 C1395.9,351.2 1397.1,331.8 1398.4,318.4 C1399.3,308.6 1400.3,300.9 1401.2,293 C1402,286.2 1402.4,279.5 1403.5,274 C1404.4,269.7 1405,263 1406.7,262.5 C1407.9,262.1 1409.7,264.4 1411.1,266.1 C1413.1,268.7 1414.6,274.1 1416.5,277.6 C1418.2,280.8 1420,286.3 1421.8,286.5 C1423.3,286.6 1425.2,283.6 1426.3,281.2 C1428,277.5 1428.1,271.4 1429,265.2 C1430.2,256.7 1431.3,245 1432.5,234.9 C1433.7,224.8 1434.7,214.1 1436.1,204.6 C1437.4,196.1 1439,188.5 1440.5,180.5" fill="none" stroke="#ff1e0c" stroke-width="3.6" stroke-linejoin="round" stroke-linecap="round"/>
<path d="M935.2,515.9 C935.5,518 935.1,520.7 936.2,522.1 C937.2,523.3 939.3,523.2 941,524.1 C943.2,525.3 945.8,529.2 947.9,529 C949.9,528.8 951.4,523.6 953.4,523.4 C955.4,523.2 958,527.9 959.7,527.6 C961.2,527.3 961.9,524.3 963.1,522.8 C964.2,521.3 965.1,518.9 966.6,518.6 C968.5,518.2 972.1,523.4 974.1,522.8 C976.3,522.2 976.9,514.6 979,513.8 C980.6,513.2 983.1,516.2 984.5,515.9 C985.7,515.6 986.4,514.4 987.2,513.1 C988.3,511.3 988.7,507.3 990,505.5 C990.9,504.2 992.1,503.4 993.4,502.8 C994.7,502.2 996.5,502.9 997.6,502.1 C998.9,501.1 999.4,498.6 1000.3,496.6 C1001.3,494.4 1001.9,491.8 1003.1,489.7 C1004.2,487.7 1005.8,486 1007.2,484.1 C1008.6,482.3 1010.1,481 1011.4,478.6 C1013.4,475.1 1015.1,469.4 1016.9,464.8 C1018.7,460.2 1020.6,455 1022.4,451 C1023.8,447.8 1025.4,445.8 1026.6,442.4 C1028.3,437.9 1029.4,431.5 1030.7,425.9 C1032.1,420 1033.3,413.5 1034.8,407.9 C1036.1,403 1037.8,398.9 1039,394.1 C1040.3,388.9 1041.3,383.7 1042.4,377.6 C1043.7,370.2 1044.6,360.7 1045.9,352.8 C1047.1,345.6 1048.5,338.7 1050,332.1 C1051.4,325.9 1053.4,320.5 1054.8,314.1 C1056.4,306.8 1057.8,298.1 1059,290.7 C1060,284.1 1060.7,278.8 1061.5,272 C1062.5,263.9 1063.2,254.4 1064.5,245.5 C1065.9,236.4 1068.1,227.1 1069.6,217.9 C1071,208.7 1072.1,199.5 1073.2,190.3 C1074.2,181.1 1074.9,171.7 1075.9,162.8 C1076.8,154.3 1077.9,145 1078.8,137.9 C1079.5,132.6 1080.1,128.1 1080.8,124.1 C1081.4,121.1 1081.6,119.2 1082.6,116.2 C1084,111.8 1087.1,100.8 1089.3,100.7 C1090.9,100.6 1092.8,106.1 1094.1,109 C1095.4,112 1096.2,115.2 1096.9,118.6 C1097.7,122.4 1096.9,127.8 1098.3,131 C1099.4,133.4 1101.8,134.3 1103.1,136.6 C1104.7,139.3 1105.6,142.9 1106.6,146.2 C1107.7,149.7 1108.4,153.3 1109.3,157.2 C1110.3,161.5 1110.2,168.3 1112.1,171 C1113.3,172.7 1115.6,172.3 1116.9,173.8 C1118.7,175.9 1119.9,180 1121,183.4 C1122.2,186.9 1122.9,190.8 1123.8,194.5" fill="none" stroke="#000" stroke-width="4.0" stroke-linejoin="round" stroke-linecap="round"/>
<rect x="935.6" y="6.3" width="505.0" height="562.0" fill="none" stroke="#262626" stroke-width="1.4"/>
<path d="M950.4,568.3L950.4,560 M950.4,6.3L950.4,14.6 M1008.7,568.3L1008.7,560 M1008.7,6.3L1008.7,14.6 M1067,568.3L1067,560 M1067,6.3L1067,14.6 M1125.3,568.3L1125.3,560 M1125.3,6.3L1125.3,14.6 M1183.7,568.3L1183.7,560 M1183.7,6.3L1183.7,14.6 M1242,568.3L1242,560 M1242,6.3L1242,14.6 M1300.3,568.3L1300.3,560 M1300.3,6.3L1300.3,14.6 M1358.6,568.3L1358.6,560 M1358.6,6.3L1358.6,14.6 M1416.9,568.3L1416.9,560 M1416.9,6.3L1416.9,14.6" stroke="#262626" stroke-width="1.3" fill="none"/>
<text x="950.4" y="607.2" font-size="27" text-anchor="middle" fill="#000" >0.8</text>
<text x="1008.7" y="607.2" font-size="27" text-anchor="middle" fill="#000" >1.0</text>
<text x="1067" y="607.2" font-size="27" text-anchor="middle" fill="#000" >1.2</text>
<text x="1125.3" y="607.2" font-size="27" text-anchor="middle" fill="#000" >1.4</text>
<text x="1183.7" y="607.2" font-size="27" text-anchor="middle" fill="#000" >1.6</text>
<text x="1242" y="607.2" font-size="27" text-anchor="middle" fill="#000" >1.8</text>
<text x="1300.3" y="607.2" font-size="27" text-anchor="middle" fill="#000" >2.0</text>
<text x="1358.6" y="607.2" font-size="27" text-anchor="middle" fill="#000" >2.2</text>
<text x="1416.9" y="607.2" font-size="27" text-anchor="middle" fill="#000" >2.4</text>
<text x="1188.9" y="658.2" font-size="36.3" text-anchor="middle" fill="#000" >Energy (eV)</text>
<text x="957.2" y="49.2" font-size="26.5" text-anchor="start" fill="#000" ><tspan font-style="italic">P</tspan> (GPa)</text>
<line x1="951.8" y1="73.0" x2="1001.2" y2="73.0" stroke="#ff1e0c" stroke-width="3.2" stroke-linecap="round"/>
<text x="1011.8" y="80.6" font-size="21.3" text-anchor="start" fill="#000" >0.2</text>
<line x1="951.8" y1="98.3" x2="1001.2" y2="98.3" stroke="#33ff14" stroke-width="1.8" stroke-linecap="round"/>
<text x="1011.8" y="105.9" font-size="21.3" text-anchor="start" fill="#000" >4.3</text>
<line x1="951.8" y1="123.8" x2="1001.2" y2="123.8" stroke="#6e1010" stroke-width="1.8" stroke-linecap="round"/>
<text x="1011.8" y="131.4" font-size="21.3" text-anchor="start" fill="#000" >10.0</text>
<line x1="951.8" y1="149.0" x2="1001.2" y2="149.0" stroke="#2a7c1c" stroke-width="2.0" stroke-linecap="round"/>
<text x="1011.8" y="156.6" font-size="21.3" text-anchor="start" fill="#000" >14.8</text>
<line x1="951.8" y1="174.6" x2="1001.2" y2="174.6" stroke="#6c0e8c" stroke-width="2.0" stroke-linecap="round"/>
<text x="1011.8" y="182.2" font-size="21.3" text-anchor="start" fill="#000" >20.2</text>
<line x1="951.8" y1="200.0" x2="1001.2" y2="200.0" stroke="#2a7c78" stroke-width="2.0" stroke-linecap="round"/>
<text x="1011.8" y="207.6" font-size="21.3" text-anchor="start" fill="#000" >24.3</text>
<line x1="951.8" y1="225.1" x2="1001.2" y2="225.1" stroke="#000" stroke-width="3.6" stroke-linecap="round"/>
<text x="1011.8" y="232.7" font-size="21.3" text-anchor="start" fill="#000" >30.3</text>
<text x="-1.2" y="49.8" font-size="52" textLength="60.5" lengthAdjust="spacingAndGlyphs">(a)</text>
<text x="-1.2" y="731.4" font-size="52" text-anchor="start" fill="#000" >(b)</text>
<text x="644" y="744.2" font-size="52" textLength="59.5" lengthAdjust="spacingAndGlyphs">(c)</text>
<circle cx="806.6" cy="788.4" r="14.5" fill="#fa1e0c"/>
<circle cx="854.6" cy="816.0" r="14.5" fill="#fa1e0c"/>
<circle cx="920.6" cy="890.0" r="14.5" fill="#fa1e0c"/>
<circle cx="976.6" cy="943.2" r="14.5" fill="#fa1e0c"/>
<circle cx="1039.7" cy="991.9" r="14.5" fill="#fa1e0c"/>
<circle cx="1087.5" cy="1031.0" r="14.5" fill="#fa1e0c"/>
<circle cx="1130.7" cy="1095.8" r="14.5" fill="#fa1e0c"/>
<circle cx="1157.3" cy="1109.6" r="14.5" fill="#fa1e0c"/>
<circle cx="1174.2" cy="1119.0" r="14.5" fill="#fa1e0c"/>
<circle cx="1196.2" cy="1142.2" r="14.5" fill="#fa1e0c"/>
<path d="M789.4,826.7L818,826.7L803.7,851.1Z" fill="#fff" stroke="#000" stroke-width="1.5" stroke-linejoin="miter"/>
<path d="M836.1,902.9L864.7,902.9L850.4,927.3Z" fill="#fff" stroke="#000" stroke-width="1.5" stroke-linejoin="miter"/>
<path d="M882.8,990.8L911.4,990.8L897.1,1015.2Z" fill="#fff" stroke="#000" stroke-width="1.5" stroke-linejoin="miter"/>
<path d="M929.6,1020.6L958.2,1020.6L943.9,1045Z" fill="#fff" stroke="#000" stroke-width="1.5" stroke-linejoin="miter"/>
<path d="M976.3,1048.6L1004.9,1048.6L990.6,1073Z" fill="#fff" stroke="#000" stroke-width="1.5" stroke-linejoin="miter"/>
<path d="M1023,1076.2L1051.6,1076.2L1037.3,1100.6Z" fill="#fff" stroke="#000" stroke-width="1.5" stroke-linejoin="miter"/>
<path d="M1069.7,1096.9L1098.3,1096.9L1084,1121.3Z" fill="#fff" stroke="#000" stroke-width="1.5" stroke-linejoin="miter"/>
<path d="M1116.4,1113.3L1145,1113.3L1130.7,1137.7Z" fill="#fff" stroke="#000" stroke-width="1.5" stroke-linejoin="miter"/>
<path d="M1163.2,1143.4L1191.8,1143.4L1177.5,1167.8Z" fill="#fff" stroke="#000" stroke-width="1.5" stroke-linejoin="miter"/>
<path d="M1209.9,1147.6L1238.5,1147.6L1224.2,1172Z" fill="#fff" stroke="#000" stroke-width="1.5" stroke-linejoin="miter"/>
<path d="M1256.6,1175.5L1285.2,1175.5L1270.9,1199.9Z" fill="#fff" stroke="#000" stroke-width="1.5" stroke-linejoin="miter"/>
<path d="M1303.3,1207.9L1331.9,1207.9L1317.6,1232.3Z" fill="#fff" stroke="#000" stroke-width="1.5" stroke-linejoin="miter"/>
<path d="M1350,1240.4L1378.6,1240.4L1364.3,1264.8Z" fill="#fff" stroke="#000" stroke-width="1.5" stroke-linejoin="miter"/>
<path d="M1396.8,1275.2L1425.4,1275.2L1411.1,1299.6Z" fill="#fff" stroke="#000" stroke-width="1.5" stroke-linejoin="miter"/>
<rect x="792.1" y="758.1" width="653.8" height="554.7" fill="none" stroke="#1a1a1a" stroke-width="1.6"/>
<path d="M792.1,1312.7L808.1,1312.7 M1429.9,1312.7L1445.9,1312.7 M792.1,1220.3L808.1,1220.3 M1429.9,1220.3L1445.9,1220.3 M792.1,1127.8L808.1,1127.8 M1429.9,1127.8L1445.9,1127.8 M792.1,1035.4L808.1,1035.4 M1429.9,1035.4L1445.9,1035.4 M792.1,942.9L808.1,942.9 M1429.9,942.9L1445.9,942.9 M792.1,850.5L808.1,850.5 M1429.9,850.5L1445.9,850.5 M792.1,758.1L808.1,758.1 M1429.9,758.1L1445.9,758.1 M792.1,1266.5L800.1,1266.5 M1437.9,1266.5L1445.9,1266.5 M792.1,1174L800.1,1174 M1437.9,1174L1445.9,1174 M792.1,1081.6L800.1,1081.6 M1437.9,1081.6L1445.9,1081.6 M792.1,989.2L800.1,989.2 M1437.9,989.2L1445.9,989.2 M792.1,896.7L800.1,896.7 M1437.9,896.7L1445.9,896.7 M792.1,804.3L800.1,804.3 M1437.9,804.3L1445.9,804.3 M803.7,1312.8L803.7,1297.3 M803.7,758.1L803.7,773.6 M920.5,1312.8L920.5,1297.3 M920.5,758.1L920.5,773.6 M1037.3,1312.8L1037.3,1297.3 M1037.3,758.1L1037.3,773.6 M1154.1,1312.8L1154.1,1297.3 M1154.1,758.1L1154.1,773.6 M1270.9,1312.8L1270.9,1297.3 M1270.9,758.1L1270.9,773.6 M1387.7,1312.8L1387.7,1297.3 M1387.7,758.1L1387.7,773.6 M862.1,1312.8L862.1,1305.1 M862.1,758.1L862.1,765.8 M978.9,1312.8L978.9,1305.1 M978.9,758.1L978.9,765.8 M1095.7,1312.8L1095.7,1305.1 M1095.7,758.1L1095.7,765.8 M1212.5,1312.8L1212.5,1305.1 M1212.5,758.1L1212.5,765.8 M1329.3,1312.8L1329.3,1305.1 M1329.3,758.1L1329.3,765.8" stroke="#1a1a1a" stroke-width="1.5" fill="none"/>
<text x="775.8" y="1323.4" font-size="34.5" text-anchor="end" fill="#000" >0.0</text>
<text x="775.8" y="1231" font-size="34.5" text-anchor="end" fill="#000" >0.4</text>
<text x="775.8" y="1138.5" font-size="34.5" text-anchor="end" fill="#000" >0.8</text>
<text x="775.8" y="1046.1" font-size="34.5" text-anchor="end" fill="#000" >1.2</text>
<text x="775.8" y="953.6" font-size="34.5" text-anchor="end" fill="#000" >1.6</text>
<text x="775.8" y="861.2" font-size="34.5" text-anchor="end" fill="#000" >2.0</text>
<text x="775.8" y="768.8" font-size="34.5" text-anchor="end" fill="#000" >2.4</text>
<text x="803.7" y="1367.2" font-size="35.5" text-anchor="middle" fill="#000" >0</text>
<text x="920.5" y="1367.2" font-size="35.5" text-anchor="middle" fill="#000" >10</text>
<text x="1037.3" y="1367.2" font-size="35.5" text-anchor="middle" fill="#000" >20</text>
<text x="1154.1" y="1367.2" font-size="35.5" text-anchor="middle" fill="#000" >30</text>
<text x="1270.9" y="1367.2" font-size="35.5" text-anchor="middle" fill="#000" >40</text>
<text x="1387.7" y="1367.2" font-size="35.5" text-anchor="middle" fill="#000" >50</text>
<text x="1126.6" y="1444.9" font-size="41" text-anchor="middle" fill="#000" >Pressure (GPa)</text>
<text transform="translate(695.5,1016.5) rotate(-90)" font-size="40.8" text-anchor="middle">Optical band-gap (eV)</text>
<circle cx="870.6" cy="1178.4" r="15" fill="#fa1e0c"/>
<path d="M856.1,1217.6L885.1,1217.6L870.6,1242.4Z" fill="#fff" stroke="#000" stroke-width="1.5" stroke-linejoin="miter"/>
<text x="927" y="1183.6" font-size="33" text-anchor="start" fill="#000" >C<tspan font-size="21.5" dy="10.5">48</tspan><tspan dy="-10.5">H</tspan><tspan font-size="21.5" dy="10.5">20</tspan></text>
<text x="927" y="1236.4" font-size="33" text-anchor="start" fill="#000" >DFT</text>
<text x="927" y="1273.6" font-size="33.5" text-anchor="start" fill="#000" >Calculations</text>
<rect x="84.8" y="736.1" width="519.5" height="652.7" fill="#000"/>
<rect x="92.2" y="754.8" width="208.0" height="203.5" fill="#060606"/>
<ellipse cx="190.8" cy="859.2" rx="101.5" ry="101.5" fill="none" stroke="#303030" stroke-width="8" filter="url(#bl3)"/>
<ellipse cx="190.8" cy="859.2" rx="98.7" ry="98.7" fill="none" stroke="#1a1c2c" stroke-width="1.3"/>
<ellipse cx="190.8" cy="859.2" rx="97.5" ry="97.5" fill="url(#disk0)"/>
<ellipse cx="190.8" cy="859.2" rx="96.4" ry="96.4" fill="none" stroke="#f0f4ff" stroke-width="2.6"/>
<polygon points="214.1,796 220.3,794.5 224,802.2 227.7,808.4 228.9,815.8 231.4,826.9 235.1,838 238.2,846.6 235.1,851.5 228.9,860.1 225.2,866.3 216.6,877.4 210.4,886 205.5,897.1 199.3,913.2 194.4,928 190.7,940.3 184.5,955.1 163.6,913.2 174.7,897.1 182.1,882.3 188.2,866.3 193.2,851.5 194.4,841.7 199.3,831.8 205.5,817" transform="translate(-2.6,-0.8)" fill="none" stroke="#f4f6fd" stroke-width="6.5" stroke-linejoin="round" filter="url(#bl05)"/>
<polygon points="214.1,796 220.3,794.5 224,802.2 227.7,808.4 228.9,815.8 231.4,826.9 235.1,838 238.2,846.6 235.1,851.5 228.9,860.1 225.2,866.3 216.6,877.4 210.4,886 205.5,897.1 199.3,913.2 194.4,928 190.7,940.3 184.5,955.1 163.6,913.2 174.7,897.1 182.1,882.3 188.2,866.3 193.2,851.5 194.4,841.7 199.3,831.8 205.5,817" fill="none" stroke="#a9abb4" stroke-width="2.2" stroke-linejoin="round" opacity="0.8"/>
<polygon points="214.1,796 220.3,794.5 224,802.2 227.7,808.4 228.9,815.8 231.4,826.9 235.1,838 238.2,846.6 235.1,851.5 228.9,860.1 225.2,866.3 216.6,877.4 210.4,886 205.5,897.1 199.3,913.2 194.4,928 190.7,940.3 184.5,955.1 163.6,913.2 174.7,897.1 182.1,882.3 188.2,866.3 193.2,851.5 194.4,841.7 199.3,831.8 205.5,817" fill="url(#cg1)" stroke="#4a1206" stroke-width="1.2" stroke-linejoin="round"/>
<circle cx="190.9" cy="786" r="11.5" fill="none" stroke="#eef0f6" stroke-width="1.4" opacity="0.8"/>
<circle cx="190.9" cy="786" r="9.9" fill="url(#gb1)" stroke="#1e1e24" stroke-width="1.6"/>
<circle cx="114.9" cy="829.2" r="13.4" fill="none" stroke="#eef0f6" stroke-width="1.4" opacity="0.8"/>
<circle cx="114.9" cy="829.2" r="11.8" fill="url(#gb1)" stroke="#1e1e24" stroke-width="1.6"/>
<polygon points="518.9,739.6 589.8,929.7 399.7,1000.6 328.8,810.5" fill="#060606"/>
<ellipse cx="461.6" cy="868.8" rx="100.0" ry="101.9" fill="none" stroke="#303030" stroke-width="8" filter="url(#bl3)"/>
<ellipse cx="461.6" cy="868.8" rx="97.2" ry="99.10000000000001" fill="none" stroke="#1a1c2c" stroke-width="1.3"/>
<ellipse cx="461.6" cy="868.8" rx="96.0" ry="97.9" fill="url(#disk1)"/>
<ellipse cx="461.6" cy="868.8" rx="94.9" ry="96.80000000000001" fill="none" stroke="#f0f4ff" stroke-width="2.6"/>
<polygon points="480.4,806.6 484.1,804.8 489,808.5 492.7,817.1 494.6,820.8 496.4,830.7 500.1,841.8 505.7,852.9 503.8,856.6 497.7,866.4 495.2,873.8 489,880 482.9,887.4 478,894.8 475.5,907.1 471.8,919.5 468.1,938 464.4,950.3 460.7,964.5 438.5,923.2 444.7,913.3 452.1,892.3 453.9,887.4 457,876.3 461.9,864 463.2,849.2 469.3,836.9 475.5,820.8" transform="translate(-2.6,-0.8)" fill="none" stroke="#f4f6fd" stroke-width="6.5" stroke-linejoin="round" filter="url(#bl05)"/>
<polygon points="480.4,806.6 484.1,804.8 489,808.5 492.7,817.1 494.6,820.8 496.4,830.7 500.1,841.8 505.7,852.9 503.8,856.6 497.7,866.4 495.2,873.8 489,880 482.9,887.4 478,894.8 475.5,907.1 471.8,919.5 468.1,938 464.4,950.3 460.7,964.5 438.5,923.2 444.7,913.3 452.1,892.3 453.9,887.4 457,876.3 461.9,864 463.2,849.2 469.3,836.9 475.5,820.8" fill="none" stroke="#a9abb4" stroke-width="2.2" stroke-linejoin="round" opacity="0.8"/>
<polygon points="480.4,806.6 484.1,804.8 489,808.5 492.7,817.1 494.6,820.8 496.4,830.7 500.1,841.8 505.7,852.9 503.8,856.6 497.7,866.4 495.2,873.8 489,880 482.9,887.4 478,894.8 475.5,907.1 471.8,919.5 468.1,938 464.4,950.3 460.7,964.5 438.5,923.2 444.7,913.3 452.1,892.3 453.9,887.4 457,876.3 461.9,864 463.2,849.2 469.3,836.9 475.5,820.8" fill="url(#cg2)" stroke="#300808" stroke-width="1.2" stroke-linejoin="round"/>
<circle cx="455.5" cy="795.7" r="11.6" fill="none" stroke="#f0f2f8" stroke-width="1.4" opacity="0.8"/>
<circle cx="455.5" cy="795.7" r="10" fill="url(#gb2)" stroke="#3a3a4e" stroke-width="1.6"/>
<circle cx="383.8" cy="843.8" r="13.2" fill="none" stroke="#f0f2f8" stroke-width="1.4" opacity="0.8"/>
<circle cx="383.8" cy="843.8" r="11.6" fill="url(#gb2)" stroke="#3a3a4e" stroke-width="1.6"/>
<rect x="98.4" y="1091.5" width="200.0" height="205.3" fill="#060606"/>
<ellipse cx="197.0" cy="1193.8" rx="100.4" ry="102.4" fill="none" stroke="#303030" stroke-width="8" filter="url(#bl3)"/>
<ellipse cx="197.0" cy="1193.8" rx="97.60000000000001" ry="99.60000000000001" fill="none" stroke="#1a1c2c" stroke-width="1.3"/>
<ellipse cx="197.0" cy="1193.8" rx="96.4" ry="98.4" fill="url(#disk2)"/>
<ellipse cx="197.0" cy="1193.8" rx="95.30000000000001" ry="97.30000000000001" fill="none" stroke="#f0f4ff" stroke-width="2.6"/>
<polygon points="222.2,1134.8 226.5,1132.9 231.4,1138.5 234.5,1149.6 236.4,1160.7 239.5,1173 242.5,1182.9 240.1,1189 233.9,1196.4 229,1201.4 221.6,1208.8 215.4,1216.2 210.5,1226 206.8,1237.1 201.9,1253.2 196.9,1268 192,1279.1 185.8,1287.7 166.7,1244.5 173.5,1235.9 180.9,1223.6 185.8,1213.7 190.8,1203.8 196.9,1190.3 200.6,1176.7 206.8,1165.6 213,1153.3" transform="translate(-2.6,-0.8)" fill="none" stroke="#f4f6fd" stroke-width="6.5" stroke-linejoin="round" filter="url(#bl05)"/>
<polygon points="222.2,1134.8 226.5,1132.9 231.4,1138.5 234.5,1149.6 236.4,1160.7 239.5,1173 242.5,1182.9 240.1,1189 233.9,1196.4 229,1201.4 221.6,1208.8 215.4,1216.2 210.5,1226 206.8,1237.1 201.9,1253.2 196.9,1268 192,1279.1 185.8,1287.7 166.7,1244.5 173.5,1235.9 180.9,1223.6 185.8,1213.7 190.8,1203.8 196.9,1190.3 200.6,1176.7 206.8,1165.6 213,1153.3" fill="none" stroke="#a9abb4" stroke-width="2.2" stroke-linejoin="round" opacity="0.8"/>
<polygon points="222.2,1134.8 226.5,1132.9 231.4,1138.5 234.5,1149.6 236.4,1160.7 239.5,1173 242.5,1182.9 240.1,1189 233.9,1196.4 229,1201.4 221.6,1208.8 215.4,1216.2 210.5,1226 206.8,1237.1 201.9,1253.2 196.9,1268 192,1279.1 185.8,1287.7 166.7,1244.5 173.5,1235.9 180.9,1223.6 185.8,1213.7 190.8,1203.8 196.9,1190.3 200.6,1176.7 206.8,1165.6 213,1153.3" fill="#121210" stroke="#000" stroke-width="1.2" stroke-linejoin="round"/>
<circle cx="200.8" cy="1121.2" r="10.799999999999999" fill="none" stroke="#f6f6fa" stroke-width="2.4"/>
<circle cx="200.8" cy="1121.2" r="9.6" fill="url(#gb3)"/>
<circle cx="124.1" cy="1160.6" r="12.6" fill="none" stroke="#f6f6fa" stroke-width="2.4"/>
<circle cx="124.1" cy="1160.6" r="11.4" fill="url(#gb3)"/>
<rect x="362.9" y="1089.4" width="194.6" height="204.7" fill="#060606"/>
<ellipse cx="459.1" cy="1193.8" rx="98.7" ry="104.6" fill="none" stroke="#303030" stroke-width="8" filter="url(#bl3)"/>
<ellipse cx="459.1" cy="1193.8" rx="95.9" ry="101.8" fill="none" stroke="#1a1c2c" stroke-width="1.3"/>
<ellipse cx="459.1" cy="1193.8" rx="94.7" ry="100.6" fill="url(#disk3)"/>
<ellipse cx="459.1" cy="1193.8" rx="93.60000000000001" ry="99.5" fill="none" stroke="#f0f4ff" stroke-width="2.6"/>
<polygon points="483.5,1132.9 487.2,1131 491.5,1138.4 494.6,1147.1 496.4,1159.4 498.9,1174.2 502,1180.4 498.9,1186.5 494,1193.9 489,1200.1 482.9,1208.7 478,1217.3 473,1229.7 468.1,1244.5 464.4,1260.5 460.7,1274.1 457,1284.5 438.5,1243.9 444.7,1233.4 452.1,1219.8 457,1207.5 461.9,1193.9 464.4,1176.7 469.3,1166.8 475.5,1152" transform="translate(-2.6,-0.8)" fill="none" stroke="#f4f6fd" stroke-width="6.5" stroke-linejoin="round" filter="url(#bl05)"/>
<polygon points="483.5,1132.9 487.2,1131 491.5,1138.4 494.6,1147.1 496.4,1159.4 498.9,1174.2 502,1180.4 498.9,1186.5 494,1193.9 489,1200.1 482.9,1208.7 478,1217.3 473,1229.7 468.1,1244.5 464.4,1260.5 460.7,1274.1 457,1284.5 438.5,1243.9 444.7,1233.4 452.1,1219.8 457,1207.5 461.9,1193.9 464.4,1176.7 469.3,1166.8 475.5,1152" fill="none" stroke="#a9abb4" stroke-width="2.2" stroke-linejoin="round" opacity="0.8"/>
<polygon points="483.5,1132.9 487.2,1131 491.5,1138.4 494.6,1147.1 496.4,1159.4 498.9,1174.2 502,1180.4 498.9,1186.5 494,1193.9 489,1200.1 482.9,1208.7 478,1217.3 473,1229.7 468.1,1244.5 464.4,1260.5 460.7,1274.1 457,1284.5 438.5,1243.9 444.7,1233.4 452.1,1219.8 457,1207.5 461.9,1193.9 464.4,1176.7 469.3,1166.8 475.5,1152" fill="#121210" stroke="#000" stroke-width="1.2" stroke-linejoin="round"/>
<circle cx="459.7" cy="1122.5" r="8.799999999999999" fill="none" stroke="#2e2a26" stroke-width="2"/>
<circle cx="459.7" cy="1122.5" r="7.6" fill="url(#gb4)"/>
<circle cx="386.9" cy="1162.7" r="10.799999999999999" fill="none" stroke="#2e2a26" stroke-width="2"/>
<circle cx="386.9" cy="1162.7" r="9.6" fill="url(#gb4)"/>
<text x="112.5" y="1019.7" font-size="52" fill="#fff" textLength="202.4" lengthAdjust="spacingAndGlyphs">0.01 GPa</text>
<text x="380" y="1023.3" font-size="52" fill="#fff" textLength="173.5" lengthAdjust="spacingAndGlyphs">4.5 GPa</text>
<text x="112.6" y="1358.3" font-size="52" fill="#fff" textLength="201.5" lengthAdjust="spacingAndGlyphs">15.0 GPa</text>
<text x="360" y="1358" font-size="52" fill="#fff" textLength="202.8" lengthAdjust="spacingAndGlyphs">30.3 GPa</text>
</svg></body></html>
